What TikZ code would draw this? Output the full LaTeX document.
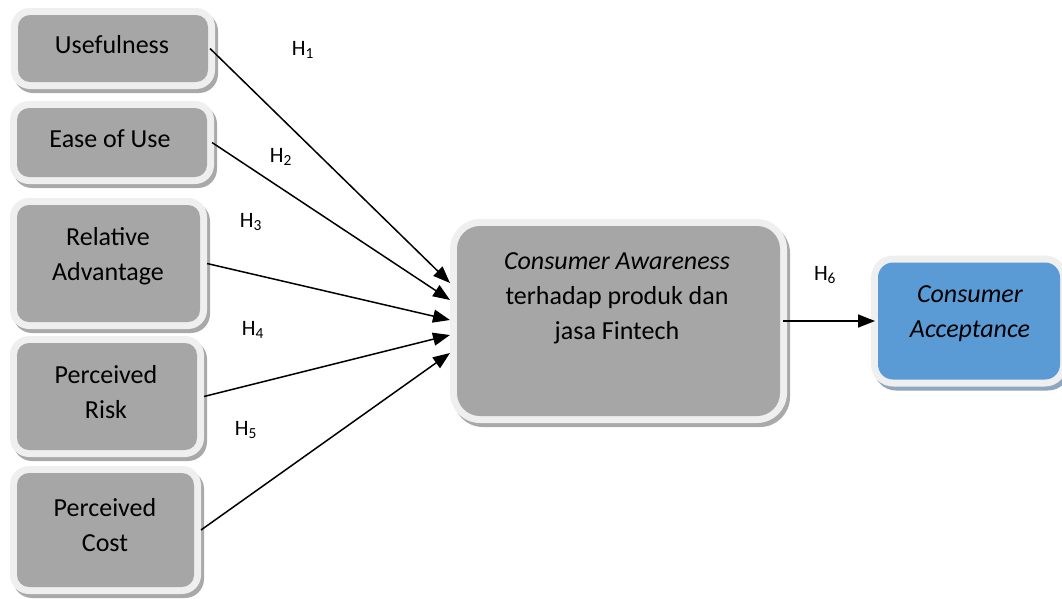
\documentclass[tikz,border=0pt]{standalone}
\usepackage{fontspec}
\setmainfont{Carlito}
\usetikzlibrary{arrows.meta,shadows}

\definecolor{ringgray}{HTML}{EFEFEF}
\definecolor{innergray}{HTML}{A6A6A6}
\definecolor{shadegray}{HTML}{A9A9A9}
\definecolor{innerblue}{HTML}{5B9BD5}
\definecolor{shadeblue}{HTML}{8EA6BE}

\tikzset{
  % light frame with a drop shadow; the coloured panel is painted inside it
  panel/.style n args={3}{
    fill=ringgray, draw=none, inner sep=0pt, outer sep=0pt,
    rounded corners=#1,
    drop shadow={shadow xshift=3pt, shadow yshift=-4pt, fill=#3, opacity=1},
    path picture={\fill[#2, rounded corners=#1-7pt]
      ([shift={(7pt,-7pt)}]path picture bounding box.north west) rectangle
      ([shift={(-7pt,7pt)}]path picture bounding box.south east);}
  },
  graybox/.style={panel={19pt}{innergray}{shadegray}},
  bluebox/.style={panel={22pt}{innerblue}{shadeblue}},
  caption/.style={align=center, inner sep=0pt, font=\fontsize{26}{35}\selectfont},
  hyp/.style={font=\fontsize{22}{26}\selectfont, inner sep=1pt},
  link/.style={-{Triangle[length=17pt,width=13pt]}, line width=1.5pt, black},
}

\begin{document}
\begin{tikzpicture}[x=1pt,y=-1pt]
  \useasboundingbox (0,0) rectangle (1062,598);

  % source constructs
  \node[graybox, minimum width=204pt, minimum height=81pt]  (use)  at (113,48.5)  {};
  \node[graybox, minimum width=204pt, minimum height=83pt]  (ease) at (112,142.5) {};
  \node[graybox, minimum width=197pt, minimum height=131pt] (rel)  at (108.5,263.5) {};
  \node[graybox, minimum width=194pt, minimum height=121pt] (risk) at (107,396.5) {};
  \node[graybox, minimum width=191pt, minimum height=128pt] (cost) at (105.5,530) {};

  \node[caption] (usetxt)  at (112,45)  {Usefulness};
  \node[caption] (easetxt) at (110,139) {Ease of Use};
  \node[caption] (reltxt)  at (108,256) {Relative\\Advantage};
  \node[caption] (risktxt) at (106,392) {Perceived\\Risk};
  \node[caption] (costtxt) at (105,525) {Perceived\\Cost};

  % mediator and outcome
  \node[panel={30pt}{innergray}{shadegray}, minimum width=337pt, minimum height=204pt] (aware) at (618.5,321) {};
  \node[caption] (awaretxt) at (617,298) {\textit{Consumer Awareness}\\terhadap produk dan\\jasa Fintech};

  \node[bluebox, minimum width=196pt, minimum height=131pt] (accept) at (969,321) {};
  \node[caption] (accepttxt) at (970,314) {\textit{Consumer}\\\textit{Acceptance}};

  % hypothesised paths
  \draw[link] ([xshift=-5pt]use.east)  -- ([yshift=38pt]aware.west);
  \draw[link] ([xshift=-2pt]ease.east) -- ([yshift=21pt]aware.west);
  \draw[link] (rel.east)  -- ([yshift=1pt]aware.west);
  \draw[link] (risk.east) -- ([yshift=-14pt]aware.west);
  \draw[link] (cost.east) -- ([yshift=-32pt]aware.west);
  \draw[link] ([xshift=-4pt]aware.east) -- ([xshift=4pt]accept.west);

  % hypothesis labels
  \node[hyp] (h1) at (303,50)  {H\textsubscript{1}};
  \node[hyp] (h2) at (281,157) {H\textsubscript{2}};
  \node[hyp] (h3) at (251,222) {H\textsubscript{3}};
  \node[hyp] (h4) at (253,330) {H\textsubscript{4}};
  \node[hyp] (h5) at (246,430) {H\textsubscript{5}};
  \node[hyp] (h6) at (825,275) {H\textsubscript{6}};
\end{tikzpicture}
\end{document}
